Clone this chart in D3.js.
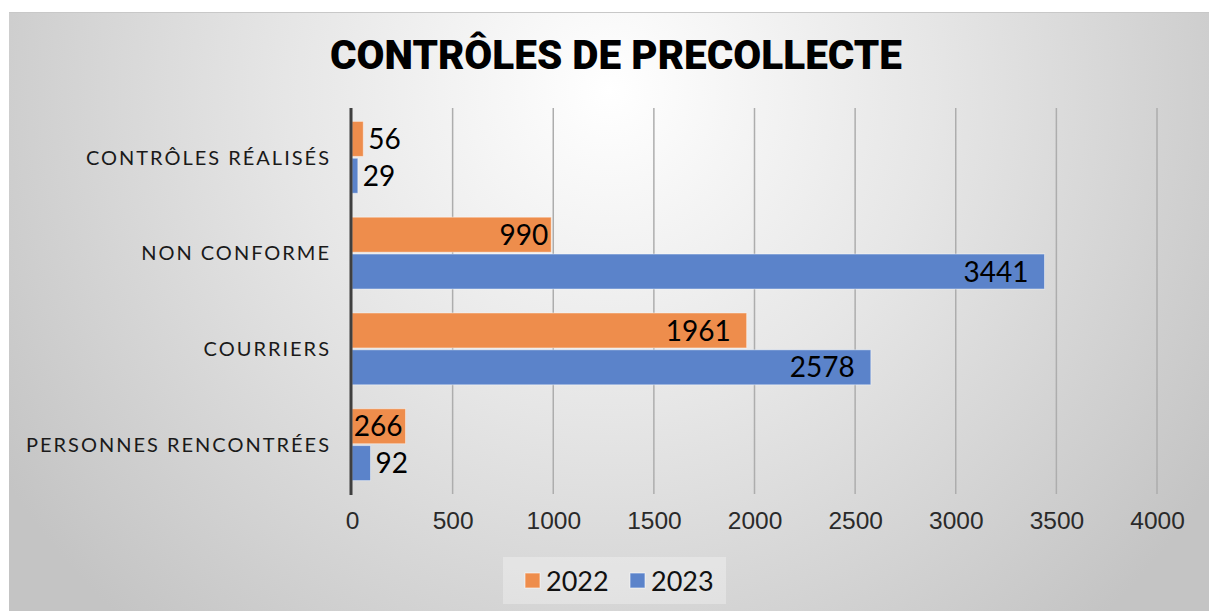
<!DOCTYPE html>
<html>
<head>
<meta charset="utf-8">
<script src="https://cdn.jsdelivr.net/npm/d3@7"></script>
<style>
  body { margin: 0; background: #fff; }
  svg { display: block; }
</style>
</head>
<body>
<script>
const categories = ["CONTRÔLES RÉALISÉS", "NON CONFORME", "COURRIERS", "PERSONNES RENCONTRÉES"];
const seriesNames = ["2022", "2023"];
const values2022 = [56, 990, 1961, 266];
const values2023 = [29, 3441, 2578, 92];
const xTicks = [0, 500, 1000, 1500, 2000, 2500, 3000, 3500, 4000];
const colors = ["#ee8d4c", "#5b83ca"];

const w = 1209, h = 611;

const svg = d3.select("body").append("svg")
  .attr("width", w)
  .attr("height", h);

// background gradient
const defs = svg.append("defs");
const grad = defs.append("radialGradient")
  .attr("id", "bg")
  .attr("gradientUnits", "userSpaceOnUse")
  .attr("cx", 610).attr("cy", 90).attr("r", 720);
grad.append("stop").attr("offset", "0%").attr("stop-color", "#ffffff");
grad.append("stop").attr("offset", "45%").attr("stop-color", "#e6e6e6");
grad.append("stop").attr("offset", "100%").attr("stop-color", "#c4c4c4");

svg.append("rect")
  .attr("x", 9).attr("y", 12)
  .attr("width", w - 9).attr("height", h - 12)
  .attr("fill", "url(#bg)");
svg.append("line")
  .attr("x1", 9).attr("x2", w).attr("y1", 12.5).attr("y2", 12.5)
  .attr("stroke", "#c8c8c8");

// title
svg.append("text")
  .attr("x", 616).attr("y", 69)
  .attr("text-anchor", "middle")
  .attr("font-family", "Roboto, 'DejaVu Sans', sans-serif")
  .attr("font-weight", 900)
  .attr("font-size", 41)
  .attr("textLength", 572)
  .attr("lengthAdjust", "spacingAndGlyphs")
  .attr("fill", "#000")
  .text("CONTRÔLES DE PRECOLLECTE");

const xscale = d3.scaleLinear()
  .domain([0, 4000])
  .range([352, 1157]);

const yscale = d3.scaleBand()
  .domain(categories)
  .range([108, 494])
  .paddingInner(0.25)
  .paddingOuter(0.14);

const sub = d3.scaleBand()
  .domain(seriesNames)
  .range([0, yscale.bandwidth()])
  .paddingInner(0.05);

// gridlines
svg.append("g")
  .selectAll("line")
  .data(xTicks.slice(1))
  .enter()
  .append("line")
  .attr("x1", d => xscale(d)).attr("x2", d => xscale(d))
  .attr("y1", 108).attr("y2", 494)
  .attr("stroke", "#adadad")
  .attr("stroke-width", 1.5);

// x tick labels
const xAxis = d3.axisBottom(xscale).tickValues(xTicks).tickFormat(d3.format("d")).tickSize(0).tickPadding(0);
const gx = svg.append("g")
  .attr("transform", "translate(0,512)")
  .call(xAxis);
gx.select(".domain").remove();
gx.selectAll("text")
  .attr("font-family", "'Liberation Sans Narrow', 'Liberation Sans', sans-serif")
  .attr("font-size", 24.5)
  .attr("fill", "#2a2a2a")
  .attr("dy", "0.71em");

// category labels
const yAxis = d3.axisLeft(yscale).tickSize(0).tickPadding(0);
const gy = svg.append("g")
  .attr("transform", "translate(331,0)")
  .call(yAxis);
gy.select(".domain").remove();
gy.selectAll("text")
  .attr("font-family", "Lato, 'Open Sans', sans-serif")
  .attr("font-size", 20)
  .attr("letter-spacing", 2)
  .attr("fill", "#1a1a1a")
  .attr("dy", "0.36em");

// bars
const rows = [];
categories.forEach((c, i) => {
  rows.push({ cat: c, s: "2022", v: values2022[i], color: colors[0] });
  rows.push({ cat: c, s: "2023", v: values2023[i], color: colors[1] });
});

svg.append("g")
  .selectAll("rect")
  .data(rows)
  .enter()
  .append("rect")
  .attr("x", xscale(0))
  .attr("y", d => yscale(d.cat) + sub(d.s))
  .attr("width", d => xscale(d.v) - xscale(0))
  .attr("height", sub.bandwidth())
  .attr("fill", d => d.color)
  .attr("stroke", "rgba(255,255,255,0.45)")
  .attr("stroke-width", 1);

// value labels
const labels = svg.append("g")
  .selectAll("text")
  .data(rows)
  .enter()
  .append("text")
  .attr("y", d => yscale(d.cat) + sub(d.s) + sub.bandwidth() / 2)
  .attr("dy", "0.36em")
  .attr("font-family", "Lato, 'Open Sans', sans-serif")
  .attr("font-size", 28)
  .attr("fill", "#000")
  .text(d => d.v);

labels.each(function(d) {
  const tw = this.getComputedTextLength();
  const bw = xscale(d.v) - xscale(0);
  const t = d3.select(this);
  if (bw >= tw - 4) {
    t.attr("x", xscale(d.v) - (String(d.v).length > 3 ? 16 : 3)).attr("text-anchor", "end");
  } else {
    t.attr("x", xscale(d.v) + 5).attr("text-anchor", "start");
  }
});

// axis line
svg.append("line")
  .attr("x1", 351).attr("x2", 351)
  .attr("y1", 108).attr("y2", 495)
  .attr("stroke", "#3f3f3f")
  .attr("stroke-width", 3);

// legend
const legend = svg.append("g");
legend.append("rect")
  .attr("x", 503).attr("y", 557)
  .attr("width", 223).attr("height", 47)
  .attr("fill", "rgba(255,255,255,0.3)");

const legendX = [525, 630];
seriesNames.forEach((s, i) => {
  legend.append("rect")
    .attr("x", legendX[i]).attr("y", 573)
    .attr("width", 15).attr("height", 15)
    .attr("fill", colors[i])
    .attr("stroke", "rgba(255,255,255,0.6)");
  legend.append("text")
    .attr("x", legendX[i] + 21).attr("y", 581)
    .attr("dy", "0.36em")
    .attr("font-family", "Lato, 'Open Sans', sans-serif")
    .attr("font-size", 27)
    .attr("fill", "#111")
    .text(s);
});
</script>
</body>
</html>
